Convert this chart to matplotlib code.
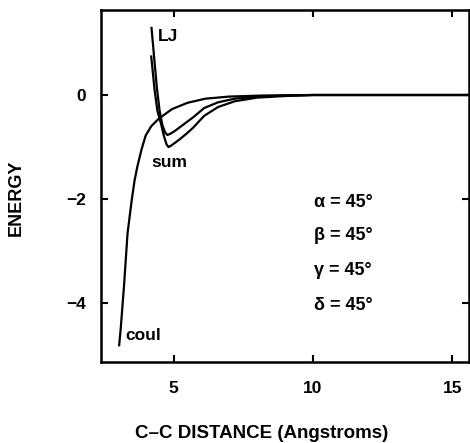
import matplotlib.pyplot as plt

# C-C distance (Angstroms) vs energy
coul_r = [3.05, 3.11, 3.23, 3.35, 3.5, 3.6, 3.7, 3.85, 4.0, 4.2, 4.48, 4.95,
          5.5, 6.15, 7.0, 8.2, 10.0, 12.0, 15.6]
coul_e = [-4.81, -4.46, -3.62, -2.66, -2.02, -1.65, -1.38, -1.05, -0.78, -0.6,
          -0.45, -0.27, -0.15, -0.07, -0.03, -0.01, 0.0, 0.0, 0.0]

lj_r = [4.21, 4.3, 4.4, 4.5, 4.6, 4.7, 4.78, 4.9, 5.05, 5.2, 5.45, 5.7, 6.1,
        6.6, 7.2, 8.0, 9.0, 10.0, 12.0, 15.6]
lj_e = [1.29, 0.75, 0.15, -0.3, -0.58, -0.72, -0.77, -0.74, -0.69, -0.63,
        -0.53, -0.43, -0.25, -0.14, -0.07, -0.03, -0.01, 0.0, 0.0, 0.0]

sum_r = [4.2, 4.32, 4.42, 4.55, 4.65, 4.75, 4.82, 4.92, 5.05, 5.2, 5.45, 5.7,
         6.1, 6.6, 7.2, 8.0, 9.0, 10.0, 12.0, 15.6]
sum_e = [0.74, 0.1, -0.3, -0.55, -0.78, -0.95, -1.0, -0.97, -0.92, -0.86,
         -0.75, -0.63, -0.4, -0.23, -0.12, -0.05, -0.02, 0.0, 0.0, 0.0]

angle_names = ['\u03b1', '\u03b2', '\u03b3', '\u03b4']
angle_vals = [45, 45, 45, 45]

plt.rcParams['font.family'] = ['Liberation Sans', 'DejaVu Sans']
plt.rcParams['font.weight'] = 'bold'

fig = plt.figure(figsize=(4.7, 4.43), dpi=100)
ax = fig.add_axes([0.215, 0.183, 0.783, 0.794])

lw = 1.6
ax.plot(coul_r, coul_e, color='black', lw=lw)
ax.plot(lj_r, lj_e, color='black', lw=lw)
ax.plot(sum_r, sum_e, color='black', lw=lw)

ax.text(4.43, 1.12, 'LJ', fontsize=12.5, fontweight='bold', va='center', ha='left')
ax.text(4.22, -1.29, 'sum', fontsize=12.5, fontweight='bold', va='center', ha='left')
ax.text(3.27, -4.63, 'coul', fontsize=12.5, fontweight='bold', va='center', ha='left')

ys = [-2.06, -2.7, -3.38, -4.04]
for name, val, yy in zip(angle_names, angle_vals, ys):
    ax.text(10.05, yy, f'{name} = {val}\u00b0', fontsize=13, fontweight='bold',
            va='center', ha='left')

ax.set_xlim(2.4, 15.6)
ax.set_ylim(-5.13, 1.63)
ax.set_xticks([5, 10, 15])
ax.set_yticks([0, -2, -4])
ax.tick_params(direction='in', top=True, right=True, length=5, width=1.5,
               labelsize=12.5)
ax.tick_params(axis='y', pad=11)
ax.tick_params(axis='x', pad=14)
for lab in ax.get_xticklabels() + ax.get_yticklabels():
    lab.set_fontweight('bold')
for sp in ax.spines.values():
    sp.set_linewidth(1.8)

ax.set_xlabel('C\u2013C DISTANCE (Angstroms)', fontsize=13.5, fontweight='bold')
ax.set_ylabel('ENERGY', fontsize=13, fontweight='bold')
ax.xaxis.set_label_coords(0.435, -0.179)
ax.yaxis.set_label_coords(-0.207, 0.466)

fig.savefig('out.png', dpi=100)
